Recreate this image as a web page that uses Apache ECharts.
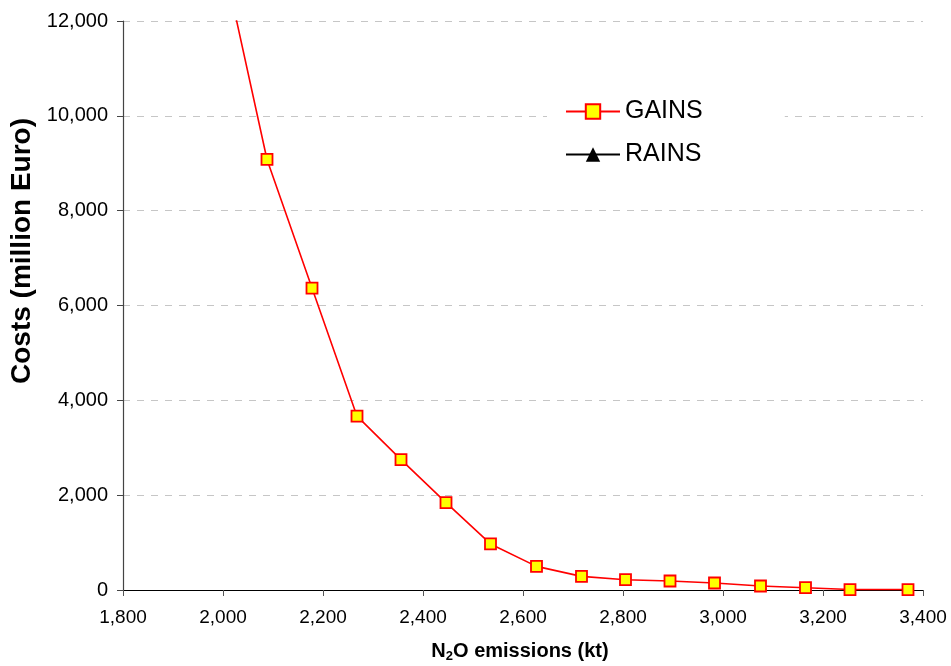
<!DOCTYPE html>
<html>
<head>
<meta charset="utf-8">
<script src="https://cdn.jsdelivr.net/npm/echarts@6/dist/echarts.min.js"></script>
<style>html,body{margin:0;padding:0;background:#fff;}#c{width:951px;height:666px;}</style>
</head>
<body>
<div id="c"></div>
<script>
// Data
const emissionsKt = [1998, 2088, 2178, 2268, 2356, 2446, 2535, 2627, 2717, 2805, 2894, 2983, 3075, 3165, 3254, 3370];
const gainsCosts = [13410, 9080, 6368, 3666, 2751, 1843, 971, 498, 287, 217, 190, 148, 84, 49, 10, 10];
const rainsEmissions = [];
const rainsCosts = [];
const seriesNames = ['GAINS', 'RAINS'];
const xTicks = [1800, 2000, 2200, 2400, 2600, 2800, 3000, 3200, 3400];
const yTicks = [0, 2000, 4000, 6000, 8000, 10000, 12000];

const FONT = '"Liberation Sans", Arial, sans-serif';
const fmt = v => v.toLocaleString('en-US');

const chart = echarts.init(document.getElementById('c'), null, {renderer: 'canvas'});
chart.setOption({
  animation: false,
  backgroundColor: '#ffffff',
  grid: {left: 123, right: 28, top: 21, bottom: 76, containLabel: false},
  xAxis: {
    type: 'value',
    min: xTicks[0], max: xTicks[xTicks.length - 1], interval: xTicks[1] - xTicks[0],
    axisLine: {show: true, onZero: false, lineStyle: {color: '#000', width: 1.2}},
    axisTick: {show: true, length: 6, lineStyle: {color: '#555'}},
    axisLabel: {fontFamily: FONT, fontSize: 19, color: '#000', margin: 18, formatter: fmt},
    splitLine: {show: false}
  },
  yAxis: {
    type: 'value',
    min: yTicks[0], max: yTicks[yTicks.length - 1], interval: yTicks[1] - yTicks[0],
    axisLine: {show: true, onZero: false, lineStyle: {color: '#444', width: 1.2}},
    axisTick: {show: true, length: 6, lineStyle: {color: '#444'}},
    axisLabel: {fontFamily: FONT, fontSize: 20, color: '#000', margin: 15, formatter: fmt},
    splitLine: {show: true, lineStyle: {color: '#c6c6c6', type: [7, 7], width: 1}}
  },
  legend: {
    show: true,
    orient: 'vertical',
    left: 547, top: 93,
    padding: [6, 82, 14, 18],
    backgroundColor: '#ffffff',
    itemWidth: 54, itemHeight: 18, itemGap: 18,
    textStyle: {fontFamily: FONT, fontSize: 25, color: '#000'},
    data: seriesNames
  },
  graphic: [{
    type: 'text',
    x: 22, y: 251,
    rotation: Math.PI / 2,
    style: {
      text: 'Costs (million Euro)',
      font: 'bold 28px ' + FONT,
      fill: '#000',
      textAlign: 'center',
      textVerticalAlign: 'middle'
    }
  }, {
    type: 'text',
    x: 520, y: 651,
    style: {
      text: '{n|N}{s|2}{n|O emissions (kt)}',
      textAlign: 'center',
      textVerticalAlign: 'middle',
      rich: {
        n: {font: 'bold 20px ' + FONT, fill: '#000'},
        s: {font: 'bold 13px ' + FONT, fill: '#000', padding: [10, 0, 0, 0]}
      }
    }
  }],
  series: [{
    name: seriesNames[0],
    type: 'line',
    data: emissionsKt.map((x, i) => [x, gainsCosts[i]]),
    clip: true,
    symbol: 'rect',
    symbolSize: 11,
    lineStyle: {color: '#ff0000', width: 1.6},
    itemStyle: {color: '#ffff00', borderColor: '#ff0000', borderWidth: 1.8},
    z: 3
  }, {
    name: seriesNames[1],
    type: 'line',
    data: rainsEmissions.map((x, i) => [x, rainsCosts[i]]),
    symbol: 'triangle',
    symbolSize: 14,
    lineStyle: {color: '#000', width: 1.6},
    itemStyle: {color: '#000'},
    z: 2
  }]
});
</script>
</body>
</html>
